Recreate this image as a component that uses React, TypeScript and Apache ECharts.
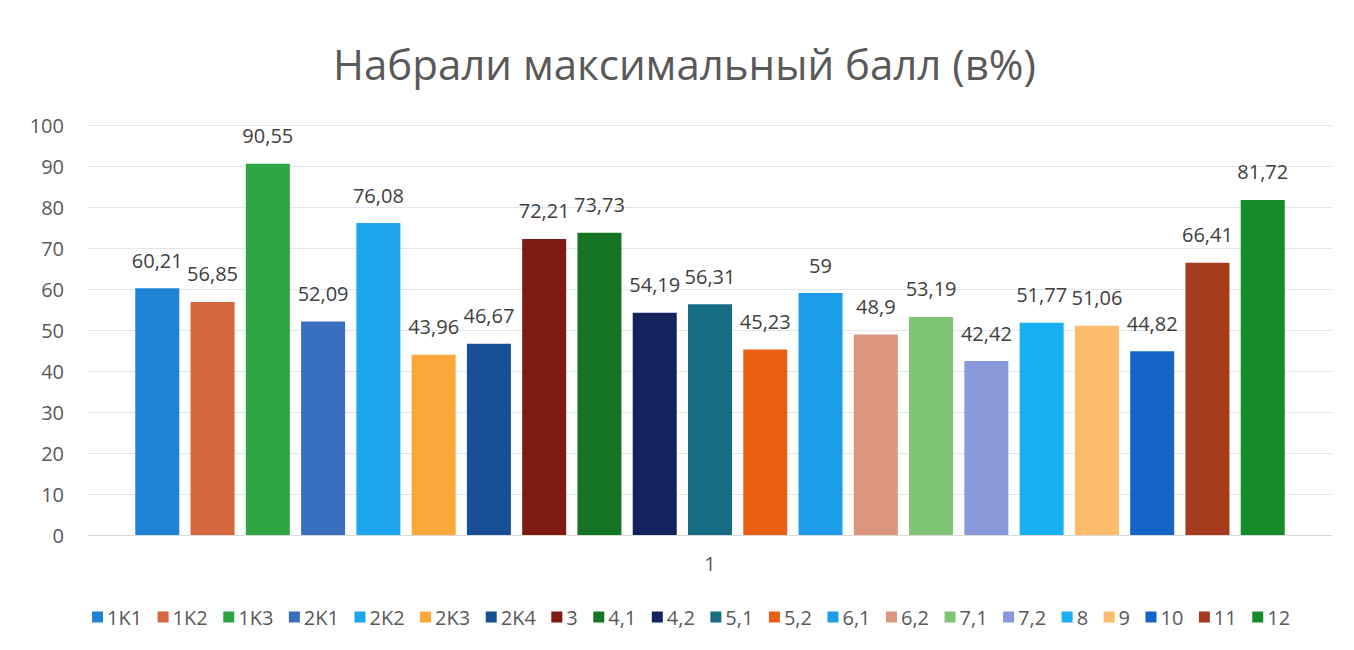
import React, { useEffect, useRef } from "react";
import * as echarts from "echarts";

const title = "Набрали максимальный балл (в%)";
const categories = ["1"];
const seriesNames = ["1K1", "1K2", "1K3", "2K1", "2K2", "2K3", "2K4", "3", "4,1", "4,2", "5,1", "5,2", "6,1", "6,2", "7,1", "7,2", "8", "9", "10", "11", "12"];
const seriesValues = [60.21, 56.85, 90.55, 52.09, 76.08, 43.96, 46.67, 72.21, 73.73, 54.19, 56.31, 45.23, 59, 48.9, 53.19, 42.42, 51.77, 51.06, 44.82, 66.41, 81.72];
const seriesColors = ["#1F83D6", "#D5673F", "#2EA543", "#3A6FC0", "#1DA6EE", "#FBA83A", "#184F95", "#7E1A12", "#157524", "#13235E", "#166C82", "#E85F12", "#1C9CEB", "#DB967D", "#7EC474", "#8799D8", "#17B1F1", "#FDBB6C", "#1565C9", "#A63A1C", "#178A2A"];

const FONT = "'Open Sans', sans-serif";

export default function App() {
  const ref = useRef<HTMLDivElement>(null);
  useEffect(() => {
    if (!ref.current) return;
    const chart = echarts.init(ref.current, null, { renderer: "svg" });
    chart.setOption({
      animation: false,
      backgroundColor: "#ffffff",
      textStyle: { fontFamily: FONT },
      title: {
        text: title,
        left: 320,
        top: 29,
        textStyle: { fontFamily: FONT, fontSize: 42, fontWeight: "normal", color: "#595959" },
      },
      grid: { left: 80, right: 14, top: 117, bottom: 107, containLabel: false },
      legend: {
        bottom: 10,
        left: 79,
        itemWidth: 11,
        itemHeight: 11,
        itemGap: 15.5,
        icon: "rect",
        textStyle: { fontFamily: FONT, fontSize: 20, color: "#595959", padding: [0, 0, 0, -1] },
        data: seriesNames,
      },
      xAxis: {
        type: "category",
        data: categories,
        axisLine: { show: true, lineStyle: { color: "#d9d9d9" } },
        axisTick: { show: false },
        axisLabel: { fontFamily: FONT, fontSize: 20, color: "#595959", margin: 18 },
      },
      yAxis: {
        type: "value",
        min: 0,
        max: 100,
        interval: 10,
        axisLine: { show: false },
        axisTick: { show: false },
        splitLine: { lineStyle: { color: "#dfe6ee" } },
        axisLabel: { fontFamily: FONT, fontSize: 20, color: "#595959", margin: 24 },
      },
      series: seriesNames.map((name, i) => ({
        name,
        type: "bar",
        data: [seriesValues[i]],
        barCategoryGap: "7.6%",
        barGap: "25.6%",
        itemStyle: { color: seriesColors[i] },
        label: {
          show: true,
          position: "top",
          distance: 18,
          fontFamily: FONT,
          fontSize: 20,
          color: "#404040",
          formatter: (p: any) => String(p.value).replace(".", ","),
        },
      })),
    });
    return () => chart.dispose();
  }, []);
  return <div ref={ref} style={{ width: 1338, height: 634 }} />;
}
